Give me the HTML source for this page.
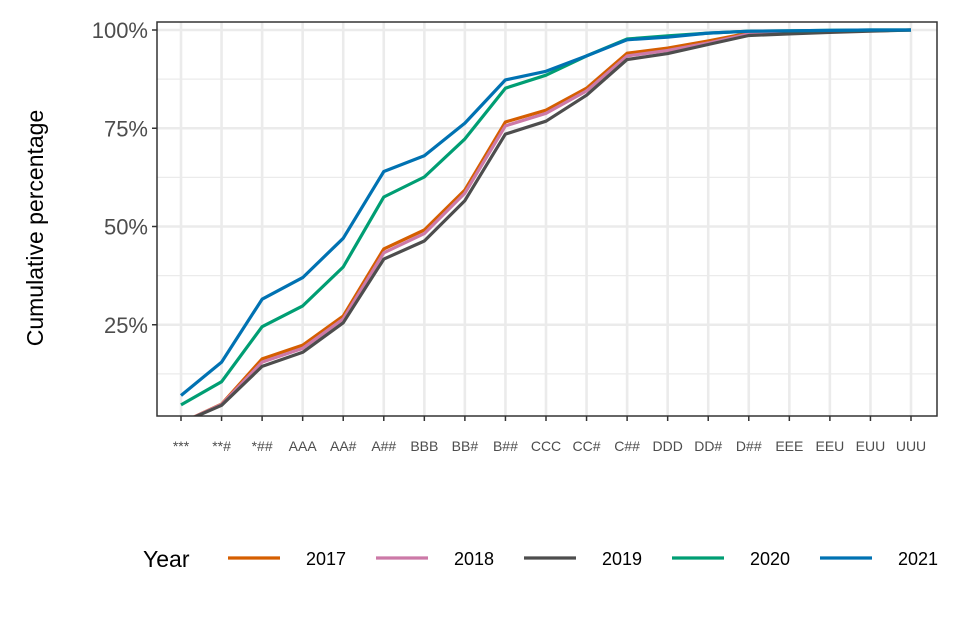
<!DOCTYPE html>
<html><head><meta charset="utf-8"><style>
body{margin:0;background:#fff;}
svg{display:block;font-family:"Liberation Sans",Arial,sans-serif;}
</style></head><body>
<svg id="chart" width="960" height="640" viewBox="0 0 960 640">
<defs><clipPath id="pc"><rect x="157" y="22" width="780" height="394"/></clipPath></defs>
<g id="grid"></g>
<g id="series" clip-path="url(#pc)"></g>
<rect x="157" y="22" width="780" height="394" fill="none" stroke="#333" stroke-width="1.5"/>
<g id="axes"></g>
<text x="0" y="0" transform="translate(43,228) rotate(-90)" text-anchor="middle" font-size="23" fill="#000">Cumulative percentage</text>
<g id="legend">
<text x="143" y="567" font-size="23" fill="#000">Year</text>
</g>
</svg>
<script>
const categories = ["***","**#","*##","AAA","AA#","A##","BBB","BB#","B##","CCC","CC#","C##","DDD","DD#","D##","EEE","EEU","EUU","UUU"];
const years = ["2017","2018","2019","2020","2021"];
const colors = ["#D55E00","#CC79A7","#4D4D4D","#009E73","#0072B2"];
const s2017 = [0,4.8,16.3,19.8,27.2,44.3,49.1,59.3,76.6,79.6,85.2,94.1,95.4,97.2,99.2,99.5,99.6,99.8,100];
const s2018 = [0,4.7,15.5,19,26.5,43.3,48.2,58.5,75.6,78.8,84.5,93.4,94.8,96.7,99,99.4,99.6,99.8,100];
const s2019 = [0,4.5,14.4,18,25.5,41.7,46.3,56.6,73.5,76.8,83.4,92.5,94,96.3,98.6,99,99.4,99.7,100];
const s2020 = [4.6,10.5,24.5,29.8,39.7,57.5,62.6,72.3,85.2,88.5,93.4,97.7,98.5,99.2,99.7,99.8,99.9,100,100];
const s2021 = [7,15.5,31.5,37,47,64,68,76.3,87.3,89.5,93.4,97.5,98.2,99.2,99.7,99.8,99.9,100,100];
const seriesList = [s2017,s2018,s2019,s2020,s2021];
const yTicks = [25,50,75,100];
const yTickLabels = ["25%","50%","75%","100%"];
const yMinor = [12.5,37.5,62.5,87.5];

const NS="http://www.w3.org/2000/svg";
function x(i){return 181+i*(911-181)/(categories.length-1);}
function y(v){return 423-v*3.93;}
function mk(tag,attrs,parent){const e=document.createElementNS(NS,tag);for(const k in attrs)e.setAttribute(k,attrs[k]);parent.appendChild(e);return e;}
const grid=document.getElementById('grid'),axes=document.getElementById('axes'),ser=document.getElementById('series'),leg=document.getElementById('legend');
yMinor.forEach(v=>{const l=mk('line',{x1:157,x2:937,y1:y(v),y2:y(v),stroke:'#ebebeb','stroke-width':1.3},grid);

});
yTicks.forEach((v,i)=>{const l=mk('line',{x1:157,x2:937,y1:y(v),y2:y(v),stroke:'#ebebeb','stroke-width':2.6},grid);


const t=mk('line',{x1:152,x2:157,y1:y(v),y2:y(v),stroke:'#333','stroke-width':1.5},axes);


const tx=mk('text',{x:148,y:y(v)+8,'text-anchor':'end','font-size':22,fill:'#4d4d4d'},axes);tx.textContent=yTickLabels[i];

});
categories.forEach((c,i)=>{const l=mk('line',{x1:x(i),x2:x(i),y1:22,y2:416,stroke:'#ebebeb','stroke-width':2.6},grid);


const t=mk('line',{x1:x(i),x2:x(i),y1:416,y2:421,stroke:'#333','stroke-width':1.5},axes);


const tx=mk('text',{x:x(i),y:451,'text-anchor':'middle','font-size':14,fill:'#4d4d4d'},axes);tx.textContent=c;

});
seriesList.forEach((s,k)=>{const d=s.map((v,i)=>(i?'L':'M')+x(i).toFixed(1)+','+y(v).toFixed(1)).join('');
const p=mk('path',{d:d,fill:'none',stroke:colors[k],'stroke-width':3.2,'stroke-linejoin':'round'},ser);


const lx=228+k*148;
const ll=mk('line',{x1:lx,x2:lx+52,y1:558,y2:558,stroke:colors[k],'stroke-width':3.2},leg);


const lt=mk('text',{x:lx+78,y:565,'font-size':18,fill:'#000'},leg);lt.textContent=years[k];

});
</script>
</body></html>
